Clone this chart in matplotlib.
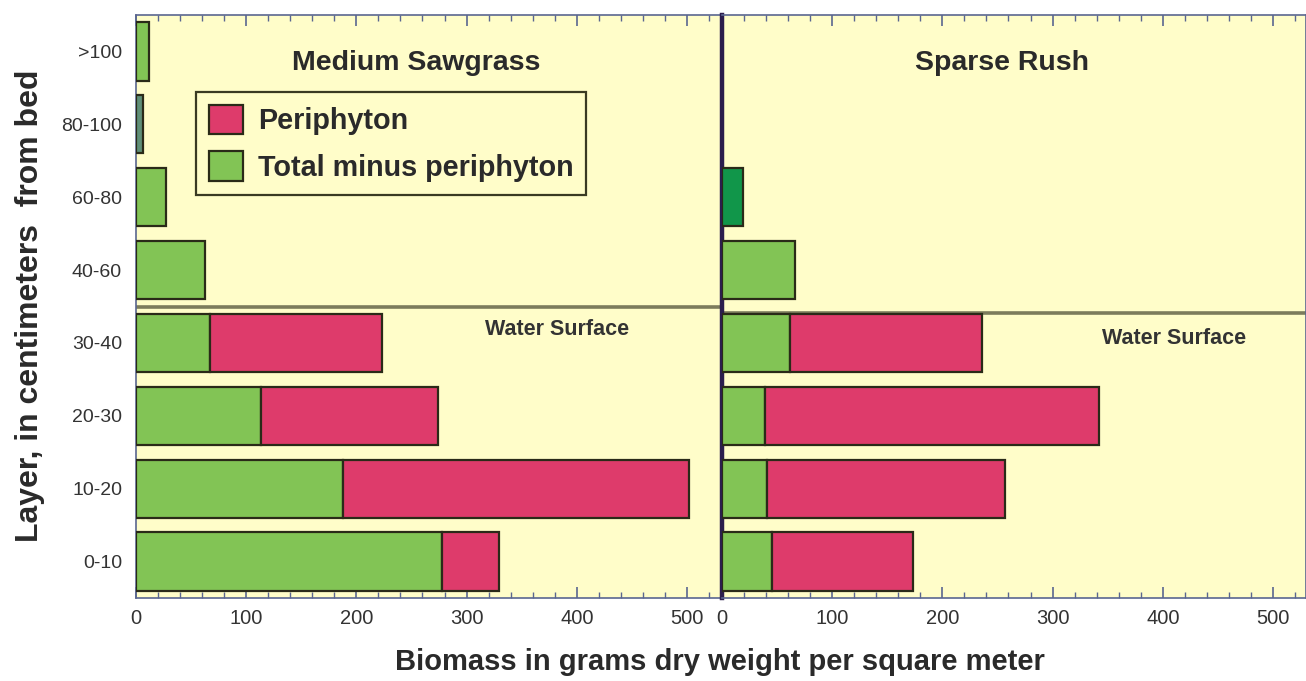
import matplotlib
matplotlib.use("Agg")
import matplotlib.pyplot as plt
from matplotlib.patches import Patch
from matplotlib.ticker import MultipleLocator
import numpy as np

plt.rcParams['font.family'] = ['Liberation Sans', 'DejaVu Sans']

layers = ["0-10", "10-20", "20-30", "30-40", "40-60", "60-80", "80-100", ">100"]
panel_titles = ["Medium Sawgrass", "Sparse Rush"]

sawgrass_other = [278, 188, 113, 67, 63, 27, 6, 12]
sawgrass_periphyton = [51, 314, 161, 156, 0, 0, 0, 0]
rush_other = [45, 41, 39, 62, 66, 19, 0, 0]
rush_periphyton = [128, 216, 303, 174, 0, 0, 0, 0]

xticks = [0, 100, 200, 300, 400, 500]
legend_labels = ["Periphyton", "Total minus periphyton"]

BG = "#FFFDC9"
GREEN = "#82C455"
PINK = "#DE3B6B"
EDGE = "#2A2A18"
SPINE = "#5A6690"

fig = plt.figure(figsize=(13.06, 6.81), dpi=100)
fig.patch.set_facecolor("white")
ax1 = fig.add_axes([136/1306, 1-598/681, (720-136)/1306, (598-15)/681])
ax2 = fig.add_axes([722/1306, 1-598/681, (1306-722)/1306, (598-15)/681])

y = np.arange(len(layers))
green_colors = [
    [GREEN]*6 + ["#5F8F78", GREEN],
    [GREEN]*5 + ["#11964A", GREEN, GREEN],
]
data = [(sawgrass_other, sawgrass_periphyton), (rush_other, rush_periphyton)]
water_y = [3.49, 3.41]
water_txt = [(0.721, 0.461), (0.774, 0.445)]

for i, ax in enumerate([ax1, ax2]):
    other, peri = data[i]
    ax.set_facecolor(BG)
    other = np.array(other, dtype=float)
    peri = np.array(peri, dtype=float)
    mask = other > 0
    ax.barh(y[mask], other[mask], height=0.8, color=np.array(green_colors[i])[mask],
            edgecolor=EDGE, linewidth=1.6, zorder=3)
    pm = peri > 0
    ax.barh(y[pm], peri[pm], left=other[pm], height=0.8, color=PINK,
            edgecolor=EDGE, linewidth=1.6, zorder=3)
    ax.set_xlim(0, 530)
    ax.set_ylim(-0.5, len(layers) - 0.5)
    ax.axhline(water_y[i], color="#7C7C5C", linewidth=2.6, zorder=2)
    ax.text(water_txt[i][0], water_txt[i][1], "Water Surface",
            transform=ax.transAxes, ha="center", va="center", fontsize=15.5,
            color="#333333", fontweight="bold")
    ax.text(0.479, 0.918, panel_titles[i], transform=ax.transAxes, ha="center",
            va="center", fontsize=20.5, fontweight="bold", color="#2a2a2a")
    ax.set_xticks(xticks)
    ax.xaxis.set_minor_locator(MultipleLocator(20))
    ax.tick_params(axis="x", which="major", direction="in", length=8, width=1.2,
                   color=SPINE, top=True, labelsize=14.5, labelcolor="#333333", pad=8)
    ax.tick_params(axis="x", which="minor", direction="in", length=4, width=1.0,
                   color=SPINE, top=True)
    for s in ax.spines.values():
        s.set_color(SPINE)
        s.set_linewidth(1.2)

ax1.set_yticks(y)
ax1.set_yticklabels(layers)
ax1.tick_params(axis="y", length=0, labelsize=14, labelcolor="#333333", pad=10)
ax2.set_yticks([])
ax2.spines["left"].set_color("#2B1D4D")
ax2.spines["left"].set_linewidth(3.2)
ax1.spines["right"].set_visible(False)

handles = [Patch(facecolor=PINK, edgecolor=EDGE, linewidth=1.6),
           Patch(facecolor=GREEN, edgecolor=EDGE, linewidth=1.6)]
leg = ax1.legend(handles, legend_labels, loc="upper left",
                 bbox_to_anchor=((196-136)/584, (598-92)/583), frameon=True,
                 fancybox=False, prop={"weight": "bold", "size": 20.7},
                 handlelength=1.2, handleheight=1.2, borderpad=0.45,
                 labelspacing=0.55, handletextpad=0.5, borderaxespad=0)
leg.get_frame().set_edgecolor("#3A3A22")
leg.get_frame().set_linewidth(1.6)
leg.get_frame().set_facecolor(BG)
leg.get_frame().set_alpha(1)
for t in leg.get_texts():
    t.set_color("#2a2a2a")

fig.text(30/1306, 1-306/681, "Layer, in centimeters  from bed", rotation=90,
         ha="center", va="center", fontsize=23, fontweight="bold", color="#2a2a2a")
fig.text(720/1306, 1-662/681, "Biomass in grams dry weight per square meter",
         ha="center", va="center", fontsize=21, fontweight="bold", color="#2a2a2a")

fig.savefig("out.png", dpi=100)
